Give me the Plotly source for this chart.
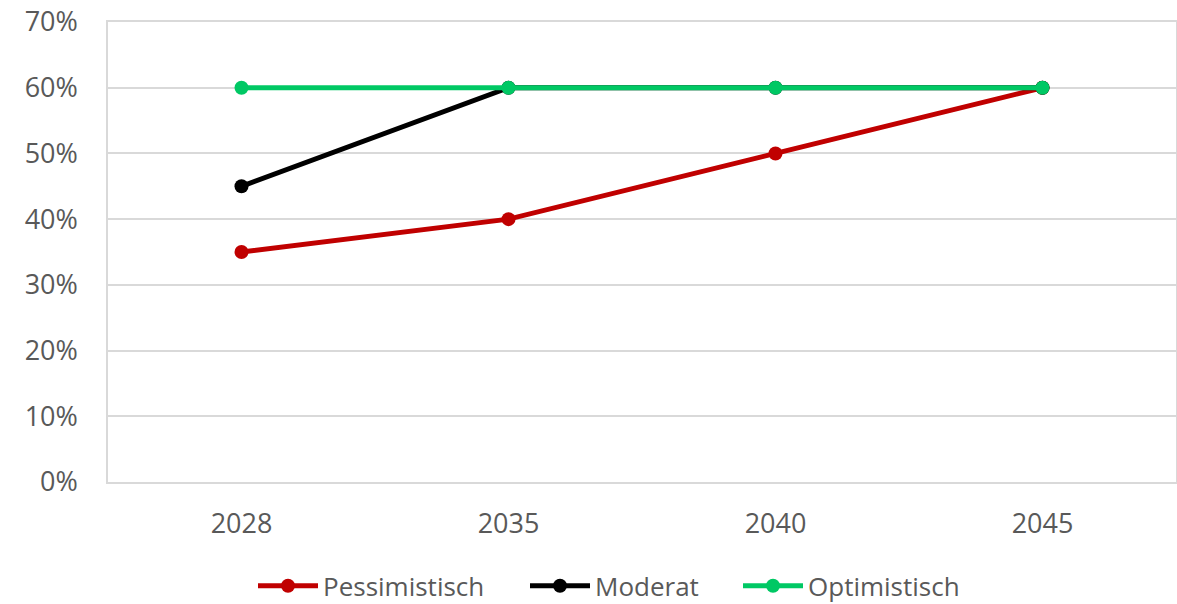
import plotly.graph_objects as go

years = ["2028", "2035", "2040", "2045"]
pessimistisch = [0.35, 0.40, 0.50, 0.60]
moderat = [0.45, 0.60, 0.60, 0.60]
optimistisch = [0.60, 0.60, 0.60, 0.60]

series = [
    ("Pessimistisch", pessimistisch, "#C00000", "legend"),
    ("Moderat", moderat, "#000000", "legend2"),
    ("Optimistisch", optimistisch, "#00C864", "legend3"),
]

fig = go.Figure()
for name, vals, col, lg in series:
    fig.add_trace(go.Scatter(
        x=years, y=vals, name=name, mode="lines+markers",
        line=dict(color=col, width=5),
        marker=dict(color=col, size=14),
        legend=lg,
    ))

font_family = "Open Sans, Noto Sans, sans-serif"
W = 1177


def leg(xpx):
    return dict(orientation="h", xref="container", yref="container",
                x=xpx / W, xanchor="left", y=0.03, yanchor="middle",
                font=dict(size=26, color="#595959"),
                itemwidth=60, bgcolor="rgba(0,0,0,0)")


fig.update_layout(
    width=W, height=604,
    margin=dict(l=108, r=1, t=22, b=122, autoexpand=False),
    plot_bgcolor="white", paper_bgcolor="white",
    font=dict(family=font_family, size=27, color="#595959"),
    showlegend=True,
    legend=leg(253), legend2=leg(525), legend3=leg(738),
    xaxis=dict(type="category", showgrid=False, showline=True, mirror=True,
               linecolor="#D9D9D9", linewidth=1.5, ticks="",
               ticklabelstandoff=17, range=[-0.5, 3.5], automargin=False),
    yaxis=dict(range=[0, 0.7], dtick=0.1, tickformat=".0%", showgrid=True,
               gridcolor="#D9D9D9", gridwidth=1.5, showline=True, mirror=True,
               linecolor="#D9D9D9", linewidth=1.5, zeroline=False,
               ticks="", ticklabelstandoff=23, automargin=False),
)

post = ("document.body.style.margin='0';document.body.style.padding='0';"
        "document.body.style.overflow='hidden';"
        "Plotly.relayout('{plot_id}', {width:1177, height:604});")
fig.write_html("out.html", post_script=post, config={"displayModeBar": False})
